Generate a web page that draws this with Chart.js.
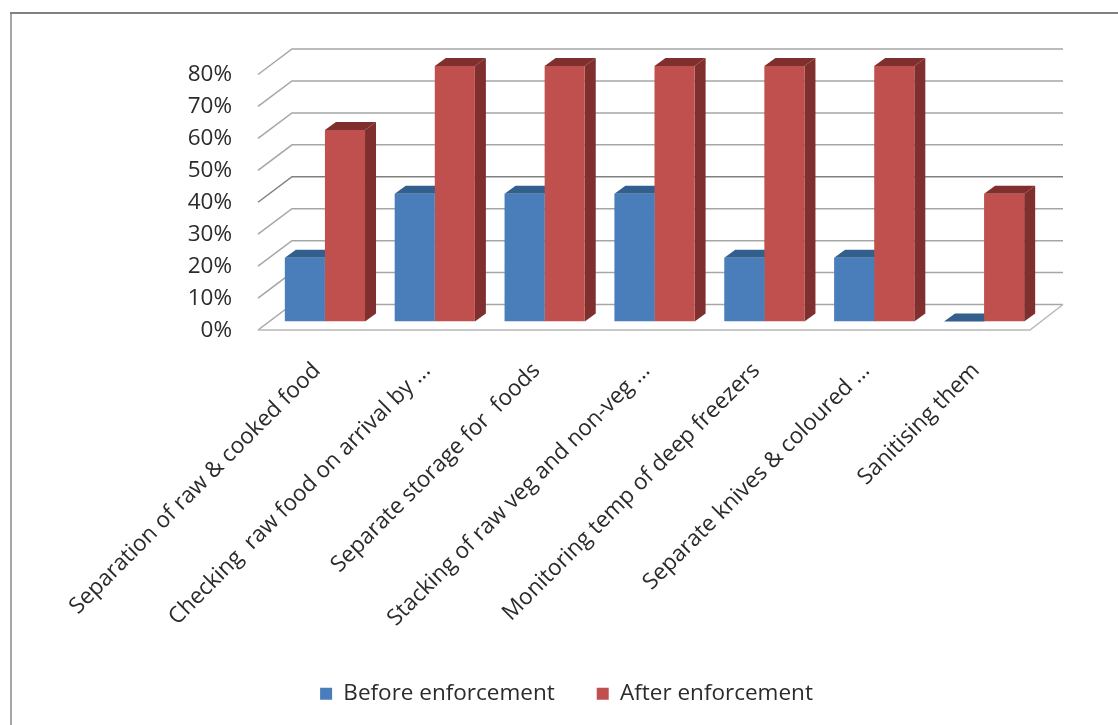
<!DOCTYPE html>
<html>
<head>
<meta charset="utf-8">
<title>Enforcement chart</title>
<script src="https://cdn.jsdelivr.net/npm/chart.js@4"></script>
<style>
  html, body { margin: 0; padding: 0; background: #fff; }
  #wrap { position: relative; width: 1118px; height: 725px; }
</style>
</head>
<body>
<div id="wrap"><canvas id="chart"></canvas></div>
<script>
const categories = [
  'Separation of raw & cooked food',
  'Checking  raw food on arrival by ...',
  'Separate storage for  foods',
  'Stacking of raw veg and non-veg ...',
  'Monitoring temp of deep freezers',
  'Separate knives & coloured ...',
  'Sanitising them'
];
const beforeValues = [20, 40, 40, 40, 20, 20, 0];
const afterValues = [60, 80, 80, 80, 80, 80, 40];

const BLUE = '#4a7ebb';
const BLUE_TOP = '#335f8d';
const RED = '#c0504d';
const RED_TOP = '#7f2f2d';
const GRID = '#a6a6a6';
const TEXT = '#2b2b2b';
const labelFont = { family: "'Open Sans', sans-serif", size: 22.5 };

function face(ctx, pts, color) {
  ctx.fillStyle = color;
  ctx.beginPath();
  pts.forEach(([x, y], i) => i ? ctx.lineTo(x, y) : ctx.moveTo(x, y));
  ctx.closePath();
  ctx.fill();
}

// Outer frame: only the top and left edges fall inside the page
const framePlugin = {
  id: 'frame',
  beforeDraw(chart) {
    const { ctx, width, height } = chart;
    ctx.save();
    ctx.lineWidth = 2;
    ctx.strokeStyle = '#a6a6a6';
    ctx.beginPath();
    ctx.moveTo(11, 13);
    ctx.lineTo(11, height);
    ctx.stroke();
    ctx.strokeStyle = '#808080';
    ctx.beginPath();
    ctx.moveTo(10, 13);
    ctx.lineTo(width, 13);
    ctx.stroke();
    ctx.restore();
  }
};

// Back wall, side wall and floor lines of the 3D box
const wallsPlugin = {
  id: 'walls',
  beforeDatasetsDraw(chart) {
    const { ctx, chartArea, scales: { y } } = chart;
    const frontX = chartArea.left - 12, backX = chartArea.left + 22, rightX = chartArea.right + 24;
    const zero = y.getPixelForValue(0);
    ctx.save();
    ctx.lineWidth = 1.5;
    y.ticks.forEach(t => {
      const py = y.getPixelForValue(t.value);
      ctx.strokeStyle = t.value === 40 ? '#808080' : GRID;
      ctx.beginPath();
      ctx.moveTo(frontX, py + 8.5);
      ctx.lineTo(backX, py - 17);
      ctx.lineTo(rightX, py - 17);
      ctx.stroke();
    });
    ctx.strokeStyle = '#b8b8b8';
    ctx.beginPath();
    ctx.moveTo(frontX, zero + 8.5);
    ctx.lineTo(rightX - 33, zero + 8.5);
    ctx.lineTo(rightX, zero - 17);
    ctx.stroke();
    ctx.restore();
  }
};

// Top and side faces of every bar, taken from the bar elements; the fronts are drawn over them
const depthPlugin = {
  id: 'depth',
  beforeDatasetsDraw(chart) {
    const { ctx } = chart;
    const dx = 11, dy = 8;
    const tops = [BLUE_TOP, RED_TOP];
    tops.forEach((color, i) => {
      chart.getDatasetMeta(i).data.forEach(bar => {
        const l = bar.x - bar.width / 2, r = bar.x + bar.width / 2;
        face(ctx, [[l, bar.y], [l + dx, bar.y - dy], [r + dx, bar.y - dy], [r, bar.y]], color);
        face(ctx, [[r, bar.y], [r + dx, bar.y - dy], [r + dx, bar.base - dy], [r, bar.base]], color);
      });
    });
  }
};

new Chart(document.getElementById('chart'), {
  type: 'bar',
  data: {
    labels: categories,
    datasets: [
      { label: 'Before enforcement', data: beforeValues, backgroundColor: BLUE },
      { label: 'After enforcement', data: afterValues, backgroundColor: RED }
    ]
  },
  options: {
    responsive: true,
    maintainAspectRatio: false,
    animation: false,
    layout: { padding: { left: 94, right: 79, top: 66, bottom: 10 } },
    datasets: { bar: { categoryPercentage: 0.73, barPercentage: 1 } },
    plugins: {
      tooltip: { enabled: false },
      legend: {
        position: 'bottom',
        labels: { boxWidth: 12, boxHeight: 12, padding: 42, font: labelFont, color: TEXT }
      }
    },
    scales: {
      x: {
        grid: { display: false },
        border: { display: false },
        afterFit(s) { s.height = 319; s.paddingLeft = 0; s.paddingRight = 0; },
        ticks: { font: labelFont, color: TEXT, minRotation: 45, maxRotation: 45, autoSkip: false, padding: 28, labelOffset: -8 }
      },
      y: {
        min: 0,
        max: 80,
        grid: { display: false },
        border: { display: false },
        afterFit(s) { s.width = 176; },
        ticks: {
          stepSize: 10,
          font: labelFont,
          color: TEXT,
          padding: 30,
          labelOffset: 9,
          callback: v => `${v}%`
        }
      }
    }
  },
  plugins: [framePlugin, wallsPlugin, depthPlugin]
});
</script>
</body>
</html>
